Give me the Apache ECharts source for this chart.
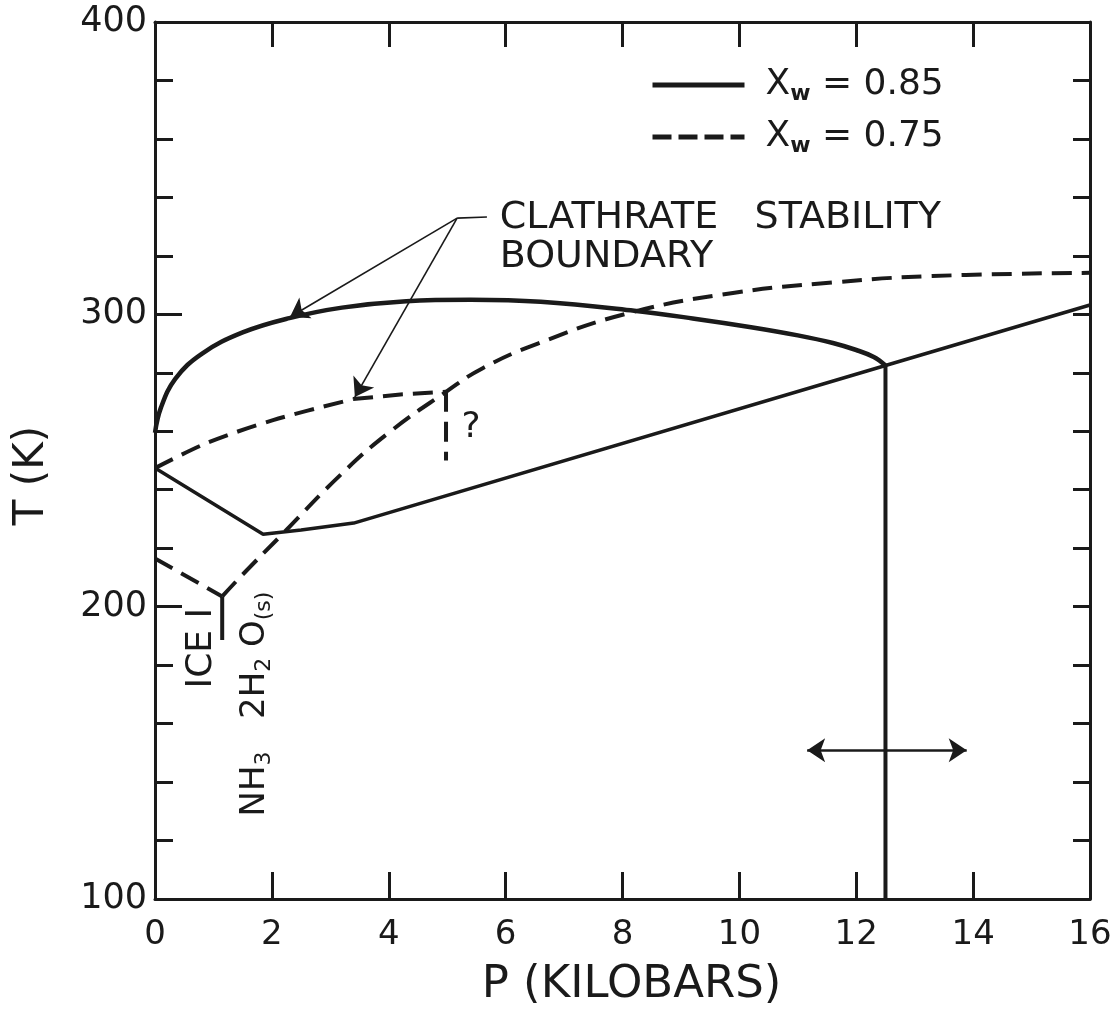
<!DOCTYPE html>
<html>
<head>
<meta charset="utf-8">
<script src="https://cdn.jsdelivr.net/npm/echarts@6/dist/echarts.min.js"></script>
<style>
html,body{margin:0;padding:0;background:#fff;}
#chart{width:1118px;height:1013px;}
</style>
</head>
<body>
<div id="chart"></div>
<script>
// ---- data (P in kilobars, T in K) ----
const xTicks = [0, 2, 4, 6, 8, 10, 12, 14, 16];
const yTickLabels = [100, 200, 300, 400];

// X_w = 0.85 (solid)
const solidClathrate = [[0, 259.5], [0.1, 268], [0.35, 278], [0.8, 286.5], [1.5, 293.8], [2.3, 298.7], [3.2, 302.3], [4.3, 304.5], [5.4, 305], [6.6, 304.3], [8.2, 301.2], [9.2, 298.6], [10.2, 295.6], [11.0, 292.8], [11.6, 290.2], [12.0, 287.8], [12.3, 285.4], [12.5, 282.5]];
const solidLower = [[0, 247.4], [1.85, 224.8], [2.5, 226.2], [3.4, 228.6], [12.5, 282.5], [16, 303.2]];
const solidVertical = [[12.5, 282.5], [12.5, 100]];
const solidIceStub = [[1.15, 203.5], [1.15, 188.6]];

// X_w = 0.75 (dashed)
const dashedIce = [[0, 216.5], [1.15, 203.5]];
const dashedLong = [[1.15, 203.5], [1.5, 211], [2.14, 224], [3.17, 245], [4.0, 259.5], [4.98, 273.5], [5.6, 281.5], [6.55, 290], [8.1, 300.4], [9.89, 307.3], [11.6, 310.9], [13.3, 313.1], [16, 314.2]];
const dashedClathrate = [[0, 247.4], [0.89, 256], [2.02, 263.8], [3.39, 271]];
const dashedClathrateFlat = [[3.39, 271], [4.2, 272.6], [4.98, 273.5]];
const dashedQuery = [[4.98, 273.5], [4.98, 250]];

// annotation arrows
const leaderLine = [[5.68, 333.3], [5.17, 332.9]];
const pointerArrows = [
  [[5.17, 332.9], [2.31, 299.1]],
  [[5.17, 332.9], [3.42, 271.7]]
];
const doubleArrow = [[11.16, 150.9], [13.89, 150.9]];

// text annotations
const textClathrate = 'CLATHRATE   STABILITY';
const textBoundary = 'BOUNDARY';
const posClathrate = [5.9, 332.9];
const posBoundary = [5.9, 319.6];
const posQuery = [5.41, 261.4];
const posIce = [0.79, 185.8];
const posHydrate = [1.71, 166.7];

const legendNames = ['x85', 'x75'];
const legendValues = ['0.85', '0.75'];

const INK = '#1a1a1a';
const FONT = 'DejaVu Sans';
const DASH = [20, 10];

function lineSeries(name, data, dashed, width) {
  return {
    name: name, type: 'line', data: data, showSymbol: false, symbol: 'none',
    smooth: false, animation: false,
    lineStyle: { color: INK, width: width || 4, type: dashed ? DASH : 'solid', cap: 'butt' },
    itemStyle: { color: INK }
  };
}

const chart = echarts.init(document.getElementById('chart'), null, { renderer: 'canvas' });

function lbl(text, extra) {
  return Object.assign({ show: true, formatter: text, color: INK, fontFamily: FONT, opacity: 1 }, extra);
}

const series = [
  Object.assign(lineSeries('x85', solidClathrate, false, 4.5), { smooth: 0.4 }),
  lineSeries('x85', solidLower, false, 3.5),
  lineSeries('x85', solidVertical, false, 4),
  lineSeries('x85', solidIceStub, false, 4),
  lineSeries('x75', dashedIce, true, 4),
  Object.assign(lineSeries('x75', dashedLong, true, 4), { smooth: 0.45 }),
  Object.assign(lineSeries('x75', dashedClathrate, true, 4), { smooth: 0.3 }),
  lineSeries('x75', dashedClathrateFlat, true, 4),
  lineSeries('x75', dashedQuery, true, 4),
  {
    type: 'lines', coordinateSystem: 'cartesian2d', animation: false,
    symbol: ['none', 'none'],
    lineStyle: { color: INK, width: 1.6, opacity: 1, curveness: 0 },
    data: [{ coords: leaderLine }]
  },
  {
    type: 'lines', coordinateSystem: 'cartesian2d', animation: false,
    symbol: ['none', 'arrow'], symbolSize: 18,
    lineStyle: { color: INK, width: 1.6, opacity: 1, curveness: 0 },
    itemStyle: { color: INK },
    data: pointerArrows.map(c => ({ coords: c }))
  },
  {
    type: 'lines', coordinateSystem: 'cartesian2d', animation: false,
    symbol: ['arrow', 'arrow'], symbolSize: 18,
    lineStyle: { color: INK, width: 2.5, opacity: 1, curveness: 0 },
    itemStyle: { color: INK },
    data: [{ coords: doubleArrow }]
  },
  {
    type: 'scatter', symbolSize: 0, animation: false, silent: true,
    itemStyle: { opacity: 1, color: INK },
    label: { show: true, position: 'inside', color: INK, fontFamily: FONT },
    data: [
      { value: posClathrate, label: lbl(textClathrate, { align: 'left', verticalAlign: 'middle', fontSize: 38 }) },
      { value: posBoundary, label: lbl(textBoundary, { align: 'left', verticalAlign: 'middle', fontSize: 38 }) },
      { value: posQuery, label: lbl('?', { align: 'center', verticalAlign: 'middle', fontSize: 36 }) },
      { value: posIce, label: lbl('ICE I', { rotate: 90, align: 'center', verticalAlign: 'middle', fontSize: 36 }) },
      {
        value: posHydrate, label: lbl('{n|NH}{s|3}{n|   2H}{s|2}{n| O}{s|(s)}', {
          rotate: 90, align: 'center', verticalAlign: 'middle',
          rich: {
            n: { fontSize: 34, color: INK, fontFamily: FONT, lineHeight: 40 },
            s: { fontSize: 22, color: INK, fontFamily: FONT, lineHeight: 22, padding: [18, 0, 0, 0] }
          }
        })
      }
    ]
  }
];

const option = {
  backgroundColor: '#ffffff',
  animation: false,
  grid: { left: 155, right: 28, top: 22, bottom: 114, containLabel: false, outerBoundsMode: 'none' },
  legend: {
    orient: 'vertical', left: 645, top: 60, itemWidth: 92, itemHeight: 24, itemGap: 12,
    data: [{ name: 'x85' }, { name: 'x75', lineStyle: { type: [19, 7] } }], selectedMode: false,
    itemStyle: { color: 'transparent', borderColor: 'transparent', borderWidth: 0, opacity: 0 },
    lineStyle: { color: INK, width: 5 },
    formatter: function (n) { return '{x|X}{w|w}{t| = ' + legendValues[legendNames.indexOf(n)] + '}'; },
    textStyle: {
      color: INK, fontFamily: FONT, padding: [0, 0, 0, 16],
      rich: {
        x: { fontSize: 36, color: INK, fontFamily: FONT, lineHeight: 40 },
        w: { fontSize: 22, fontWeight: 'bold', color: INK, fontFamily: FONT, lineHeight: 22, padding: [18, 0, 0, 0] },
        t: { fontSize: 36, color: INK, fontFamily: FONT, lineHeight: 40 }
      }
    }
  },
  xAxis: [
    {
      type: 'value', min: xTicks[0], max: xTicks[xTicks.length - 1], interval: 2, position: 'bottom',
      axisLine: { show: true, onZero: false, lineStyle: { color: INK, width: 3 } },
      axisTick: { show: true, inside: true, length: 27, lineStyle: { color: INK, width: 3 } },
      axisLabel: { show: true, color: INK, fontFamily: FONT, fontSize: 34, margin: 19 },
      splitLine: { show: false },
      name: 'P (KILOBARS)', nameLocation: 'middle', nameGap: 64,
      nameTextStyle: { color: INK, fontFamily: FONT, fontSize: 45, padding: [0, 0, 0, 18] }
    },
    {
      type: 'value', min: xTicks[0], max: xTicks[xTicks.length - 1], interval: 2, position: 'top',
      axisLine: { show: true, onZero: false, lineStyle: { color: INK, width: 3 } },
      axisTick: { show: true, inside: true, length: 25, lineStyle: { color: INK, width: 3 } },
      axisLabel: { show: false }, splitLine: { show: false }
    }
  ],
  yAxis: [
    {
      type: 'value', min: yTickLabels[0], max: yTickLabels[yTickLabels.length - 1], interval: 100, position: 'left',
      axisLine: { show: true, onZero: false, lineStyle: { color: INK, width: 3 } },
      axisTick: { show: true, inside: true, length: 27, lineStyle: { color: INK, width: 3 } },
      minorTick: { show: true, splitNumber: 5, length: 18, lineStyle: { color: INK, width: 3 } },
      axisLabel: { show: true, color: INK, fontFamily: FONT, fontSize: 35, margin: 8 },
      splitLine: { show: false }, minorSplitLine: { show: false },
      name: 'T (K)', nameLocation: 'middle', nameGap: 102,
      nameTextStyle: { color: INK, fontFamily: FONT, fontSize: 42, padding: [0, 30, 0, 0] }
    },
    {
      type: 'value', min: yTickLabels[0], max: yTickLabels[yTickLabels.length - 1], interval: 100, position: 'right',
      axisLine: { show: true, onZero: false, lineStyle: { color: INK, width: 3 } },
      axisTick: { show: true, inside: true, length: 17, lineStyle: { color: INK, width: 3 } },
      minorTick: { show: true, splitNumber: 5, length: 17, lineStyle: { color: INK, width: 3 } },
      axisLabel: { show: false }, splitLine: { show: false }, minorSplitLine: { show: false }
    }
  ],
  series: series
};

chart.setOption(option);
</script>
</body>
</html>
